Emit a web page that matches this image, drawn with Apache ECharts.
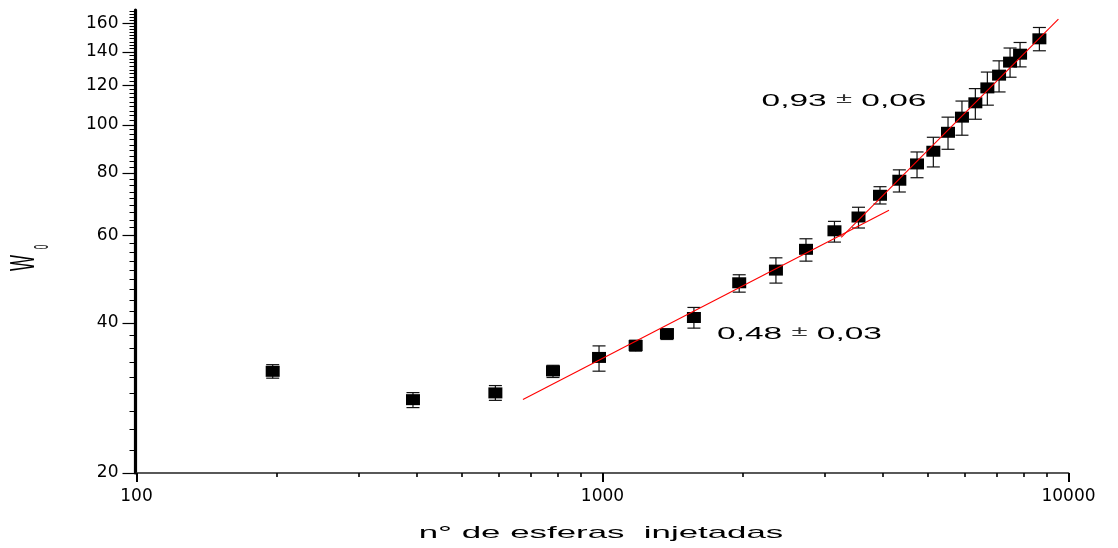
<!DOCTYPE html>
<html>
<head>
<meta charset="utf-8">
<script src="https://cdn.jsdelivr.net/npm/echarts@6/dist/echarts.min.js"></script>
<style>html,body{margin:0;padding:0;background:#fff}#c{width:1118px;height:548px}</style>
</head>
<body>
<div id="c"></div>
<script>
// ---- data ----
const xValues = [196, 392, 589, 783, 983, 1178, 1375, 1571, 1965, 2356, 2733, 3146, 3543, 3940, 4335, 4731, 5128, 5514, 5907, 6311, 6697, 7096, 7492, 7872, 8660];
const yValues = [32.0, 28.07, 28.96, 32.06, 34.12, 36.05, 38.10, 41.04, 48.18, 51.09, 56.24, 61.27, 65.30, 72.2, 77.4, 83.45, 88.5, 96.6, 103.6, 110.7, 118.6, 125.8, 133.6, 138.6, 148.8];
const yLow   = [31.0, 27.06, 27.98, 31.1, 32.02, 35.13, 37.07, 39.07, 46.14, 48.11, 53.25, 58.15, 62.06, 69.35, 73.3, 78.3, 82.3, 89.3, 95.3, 102.6, 109.5, 116.4, 124.6, 130.7, 140.8];
const yHigh  = [33.0, 29.0, 29.96, 32.9, 35.99, 36.95, 38.83, 42.99, 50.0, 54.07, 59.05, 64.0, 68.31, 75.12, 81.2, 88.2, 94.4, 103.6, 111.6, 118.2, 127.6, 134.4, 142.6, 146.3, 156.8];
const fitLow  = [[675, 28.1], [4119, 67.4]];
const fitHigh = [[3253, 59.45], [9513, 162.9]];
const xTickValues = [100, 1000, 10000];
const xTickLabels = ['100', '1000', '10000'];
const yTickValues = [20, 40, 60, 80, 100, 120, 140, 160];
const yTickLabels = ['20', '40', '60', '80', '100', '120', '140', '160'];
const xName = 'n° de esferas  injetadas';
const yName = 'W';
const yNameSub = '0';
const slopeHigh = ['0,93', '±', '0,06'];
const slopeLow = ['0,48', '±', '0,03'];

// ---- axis ranges & minor ticks ----
const xMin = 100, xMax = 10000, yMin = 20, yMax = 170;
const xMinor = [];
[100, 1000].forEach(d => { for (let k = 2; k <= 9; k++) xMinor.push(d * k); });
const yMinor = [];
for (let m = 20; m < yMax; m += 20) {
  for (let k = 1; k <= 8; k++) { const v = m + k * 20 / 9; if (v < yMax) yMinor.push(v); }
}

function labelFrom(values, labels) {
  return function (v) {
    const i = values.findIndex(t => Math.abs(t - v) < 1e-3 * t);
    return i >= 0 ? labels[i] : '';
  };
}

const points = xValues.map((x, i) => [x, yValues[i]]);
const bars = xValues.map((x, i) => [x, yLow[i], yHigh[i]]);

const chart = echarts.init(document.getElementById('c'), null, { renderer: 'canvas' });

const tickFont = 'DejaVu Sans';
const annFont = '"Liberation Sans", Arial, sans-serif';

function slopeText(parts, cx, cy) {
  return {
    type: 'text', x: cx, y: cy, scaleX: 2.09, scaleY: 1,
    style: {
      text: '{n|' + parts[0] + ' }{p|' + parts[1] + '}{n| ' + parts[2] + '}',
      align: 'center', verticalAlign: 'middle',
      rich: {
        n: { fontFamily: annFont, fontSize: 16, lineHeight: 18, verticalAlign: 'bottom', fill: '#000' },
        p: { fontFamily: annFont, fontSize: 14, lineHeight: 18, padding: [0, 0, 4, 0], verticalAlign: 'bottom', fill: '#333' }
      }
    }
  };
}

chart.setOption({
  animation: false,
  backgroundColor: '#fff',
  grid: { left: 136.5, right: 49.5, top: 10, bottom: 75 },
  xAxis: [
    {
      type: 'log', logBase: 10, min: xMin, max: xMax,
      axisLine: { show: true, lineStyle: { color: '#222', width: 1.7 } },
      axisTick: { show: true, inside: false, length: 9, customValues: xTickValues, lineStyle: { color: '#000', width: 2 } },
      axisLabel: { show: true, customValues: xTickValues, formatter: labelFrom(xTickValues, xTickLabels), margin: 15, fontFamily: tickFont, fontSize: 17, color: '#000' },
      splitLine: { show: false }, minorTick: { show: false }
    },
    {
      type: 'log', logBase: 10, min: xMin, max: xMax, position: 'bottom',
      axisLine: { show: false },
      axisTick: { show: true, inside: false, length: 4, customValues: xMinor, lineStyle: { color: '#000', width: 1.6 } },
      axisLabel: { show: false }, splitLine: { show: false }
    }
  ],
  yAxis: [
    {
      type: 'log', logBase: 10, min: yMin, max: yMax, offset: 1,
      axisLine: { show: true, lineStyle: { color: '#000', width: 3.2 } },
      axisTick: { show: true, inside: false, length: 13, customValues: yTickValues, lineStyle: { color: '#000', width: 1.2 } },
      axisLabel: { show: true, customValues: yTickValues, formatter: labelFrom(yTickValues, yTickLabels), margin: 17, fontFamily: tickFont, fontSize: 17, color: '#000' },
      splitLine: { show: false }, minorTick: { show: false }
    },
    {
      type: 'log', logBase: 10, min: yMin, max: yMax, position: 'left', offset: 1,
      axisLine: { show: false },
      axisTick: { show: true, inside: false, length: 6, customValues: yMinor, lineStyle: { color: '#000', width: 1 } },
      axisLabel: { show: false }, splitLine: { show: false }
    }
  ],
  series: [
    {
      type: 'custom', name: 'erro', xAxisIndex: 0, yAxisIndex: 0, z: 2,
      data: bars,
      encode: { x: 0, y: [1, 2] },
      renderItem: function (params, api) {
        const x = api.value(0);
        const lo = api.coord([x, api.value(1)]);
        const hi = api.coord([x, api.value(2)]);
        const w = 6.5;
        const st = { stroke: '#111', lineWidth: 1.2 };
        return {
          type: 'group',
          children: [
            { type: 'line', shape: { x1: lo[0], y1: lo[1], x2: hi[0], y2: hi[1] }, style: st },
            { type: 'line', shape: { x1: lo[0] - w, y1: lo[1], x2: lo[0] + w, y2: lo[1] }, style: st },
            { type: 'line', shape: { x1: hi[0] - w, y1: hi[1], x2: hi[0] + w, y2: hi[1] }, style: st }
          ]
        };
      }
    },
    {
      type: 'scatter', name: 'W0', xAxisIndex: 0, yAxisIndex: 0, z: 3,
      symbol: 'rect', symbolSize: [14, 11],
      itemStyle: { color: '#000', opacity: 1 },
      data: points
    },
    {
      type: 'line', name: 'ajuste 0,48', xAxisIndex: 0, yAxisIndex: 0, z: 4,
      data: fitLow, symbol: 'none', lineStyle: { color: '#ff0000', width: 1.1 }
    },
    {
      type: 'line', name: 'ajuste 0,93', xAxisIndex: 0, yAxisIndex: 0, z: 4,
      data: fitHigh, symbol: 'none', lineStyle: { color: '#ff0000', width: 1.1 }
    }
  ],
  graphic: [
    {
      type: 'text', x: 601, y: 533, scaleX: 2.05, scaleY: 1,
      style: { text: xName, fontFamily: annFont, fontSize: 17, fill: '#000', align: 'center', verticalAlign: 'middle' }
    },
    {
      type: 'text', x: 24, y: 263, rotation: Math.PI / 2, scaleX: 0.85, scaleY: 1.75,
      style: { text: yName, fontFamily: annFont, fontSize: 20, fill: '#000', align: 'center', verticalAlign: 'middle' }
    },
    {
      type: 'text', x: 43, y: 247, rotation: Math.PI / 2, scaleX: 0.9, scaleY: 2.2,
      style: { text: yNameSub, fontFamily: annFont, fontSize: 9, fill: '#000', align: 'center', verticalAlign: 'middle' }
    },
    slopeText(slopeHigh, 844, 101),
    slopeText(slopeLow, 799.5, 334)
  ]
});
</script>
</body>
</html>
